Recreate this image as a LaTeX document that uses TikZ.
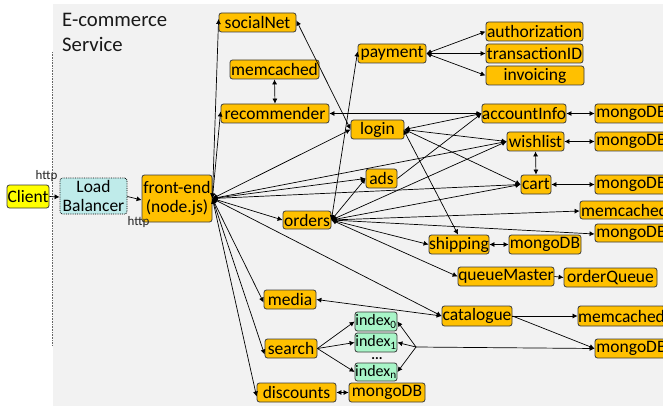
\documentclass[tikz,border=0pt]{standalone}
\usepackage{fontspec}
\setmainfont{Carlito}
\usetikzlibrary{arrows.meta,calc}
\definecolor{bgc}{HTML}{F2F2F2}
\definecolor{org}{HTML}{FFC000}
\definecolor{yel}{HTML}{FFFF00}
\definecolor{lbc}{HTML}{BFEBEA}
\definecolor{idx}{HTML}{A8F5C8}
\definecolor{edgec}{HTML}{3A3A3A}
\tikzset{
  base/.style={draw=edgec,line width=0.8pt,rounded corners=2.5pt,inner sep=0pt,font=\fontsize{17.5}{19}\selectfont,text=black,align=center},
  svc/.style={base,fill=org},
  idxbox/.style={base,fill=idx,font=\fontsize{16}{17}\selectfont},
  lab/.style={inner sep=0pt,text=black!85,font=\fontsize{13}{14}\selectfont},
  bi/.style={line width=0.7pt,draw=black,{Latex[length=5pt,width=5pt]}-{Latex[length=5pt,width=5pt]}},
  uni/.style={line width=0.7pt,draw=black,-{Latex[length=5pt,width=5pt]}}
}
\newcommand{\bx}[7][svc]{% style,name,x1,y1,x2,y2,text
  \node[#1,minimum width={(#5)-(#3)},minimum height={(#6)-(#4)}] (#2) at ({0.5*(#3+#5)},{0.5*(#4+#6)}) {#7};}
\begin{document}
\begin{tikzpicture}[x=1pt,y=-1pt]
\useasboundingbox (0,0) rectangle (663,406);
\fill[white] (0,0) rectangle (663,406);
\fill[bgc] (53,4) rectangle (663,406);
\draw[black!60,line width=0.6pt,densely dotted] (52,52) -- (52,345);
\node[anchor=north west,inner sep=0pt,align=left,font=\fontsize{20.7}{25}\selectfont,text=black!90] (title) at (62,13.5) {E-commerce\\Service};
\bx[base,fill=yel]{client}{7}{185}{49}{208}{Client}
\bx[base,fill=lbc,densely dotted,draw=black]{lb}{60}{178}{127}{214}{Load\\Balancer}
\bx{fe}{142}{175}{212}{222}{front-end\\(node.js)}
\bx{social}{219}{13}{296}{32}{socialNet}
\bx{memA}{230}{60}{319}{79}{memcached}
\bx{rec}{221}{104}{329}{123}{recommender}
\bx{pay}{358}{44}{426}{63}{payment}
\bx{auth}{486}{22}{583}{41}{authorization}
\bx{trans}{486}{44}{583}{63}{transactionID}
\bx{inv}{486}{66}{584}{85}{invoicing}
\bx{acc}{482}{104}{566}{123}{accountInfo}
\bx{mgA}{595}{104}{668}{123}{mongoDB}
\bx{login}{351}{120}{404}{139}{login}
\bx{wish}{507}{132}{564}{151}{wishlist}
\bx{mgB}{595}{132}{668}{151}{mongoDB}
\bx{ads}{366}{169}{397}{188}{ads}
\bx{cart}{521}{175}{551}{194}{cart}
\bx{mgC}{595}{175}{668}{194}{mongoDB}
\bx{memB}{580}{201}{669}{219}{memcached}
\bx{mgD}{595}{224}{668}{242}{mongoDB}
\bx{orders}{283}{211}{331}{229}{orders}
\bx{ship}{429}{235}{489}{254}{shipping}
\bx{mgE}{509}{235}{581}{254}{mongoDB}
\bx{qm}{458}{267}{554}{286}{queueMaster}
\bx{oq}{564}{268}{657}{287}{orderQueue}
\bx{cat}{442}{306}{512}{326}{catalogue}
\bx{memC}{578}{306}{665}{326}{memcached}
\bx{mgF}{595}{339}{668}{358}{mongoDB}
\bx{media}{264}{290}{316}{309}{media}
\bx{search}{265}{339}{317}{358}{search}
\bx{disc}{257}{383}{336}{402}{discounts}
\bx{mgG}{349}{383}{425}{402}{mongoDB}
\bx[idxbox]{ia}{355}{312}{397}{331}{index\textsubscript{0}}
\bx[idxbox]{ib}{355}{333}{397}{352}{index\textsubscript{1}}
\bx[idxbox]{ic}{355}{363}{397}{381}{index\textsubscript{n}}
\node[inner sep=0pt,font=\bfseries\fontsize{14}{14}\selectfont] (dots) at (377,359) {...};
\node[lab] (httpA) at (46.5,176) {http};
\node[lab] (httpB) at (138.5,222) {http};
\coordinate (jn) at (416,347);
% client chain
\draw[uni] (client.east) -- ([yshift=-1pt]lb.west);
\draw[uni] ([yshift=-0.5pt]lb.east) -- ([yshift=-1.5pt]fe.west);
% front-end fan
\draw[bi] (fe.east) -- ([yshift=3.5pt]social.west);
\draw[bi] (fe.east) -- ([yshift=2pt]rec.west);
\draw[bi] (fe.east) -- (login.west);
\draw[bi] (fe.east) -- (ads.west);
\draw[bi] (fe.east) -- (wish.west);
\draw[bi] (fe.east) -- (cart.west);
\draw[bi] (fe.east) -- (orders.west);
\draw[bi] (fe.east) -- (cat.west);
\draw[bi] (fe.east) -- ([yshift=-3pt]media.west);
\draw[bi] (fe.east) -- ([yshift=-6pt]search.west);
\draw[bi] (fe.east) -- ([yshift=-4pt]disc.west);
% orders fan
\draw[bi] (orders.east) -- ([yshift=2pt]pay.west);
\draw[bi] (orders.east) -- (ads.west);
\draw[bi] (orders.east) -- (wish.west);
\draw[bi] (orders.east) -- (cart.west);
\draw[bi] (orders.east) -- ([yshift=-1pt]memB.west);
\draw[bi] (orders.east) -- ([yshift=-1pt]mgD.west);
\draw[bi] (orders.east) -- (ship.west);
\draw[bi] (orders.east) -- (qm.west);
% login
\draw[bi] (login.east) -- (acc.west);
\draw[bi] (login.east) -- (wish.west);
\draw[bi] (login.east) -- (cart.west);
\draw[bi] ([xshift=-1pt]login.east) -- ([xshift=-1pt]ship.north);
\draw[bi] ([yshift=2pt]social.east) -- (login.west);
% right side
\draw[uni] (ads.east) -- (acc.west);
\draw[bi] (memA.south) -- (rec.north);
\draw[bi] (rec.east) -- (acc.west);
\draw[bi] (acc.east) -- (mgA.west);
\draw[bi] (wish.east) -- (mgB.west);
\draw[bi] (cart.east) -- (mgC.west);
\draw[bi] (wish.south) -- (cart.north);
\draw[bi] (ship.east) -- (mgE.west);
\draw[uni] (qm.east) -- (oq.west);
\draw[bi] (pay.east) -- (auth.west);
\draw[bi] (pay.east) -- (trans.west);
\draw[bi] (pay.east) -- (inv.west);
\draw[uni] (cat.east) -- (memC.west);
\draw[uni] (cat.east) -- (mgF.west);
\draw[bi] (media.east) -- (cat.west);
\draw[bi] (disc.east) -- (mgG.west);
\draw[uni] (search.east) -- (ia.west);
\draw[uni] (search.east) -- (ib.west);
\draw[uni] (search.east) -- (ic.west);
\draw[uni] (jn) -- (mgF.west);
\draw[uni] (jn) -- (ia.east);
\draw[uni] (jn) -- (ib.east);
\draw[uni] (jn) -- (ic.east);
\end{tikzpicture}
\end{document}
